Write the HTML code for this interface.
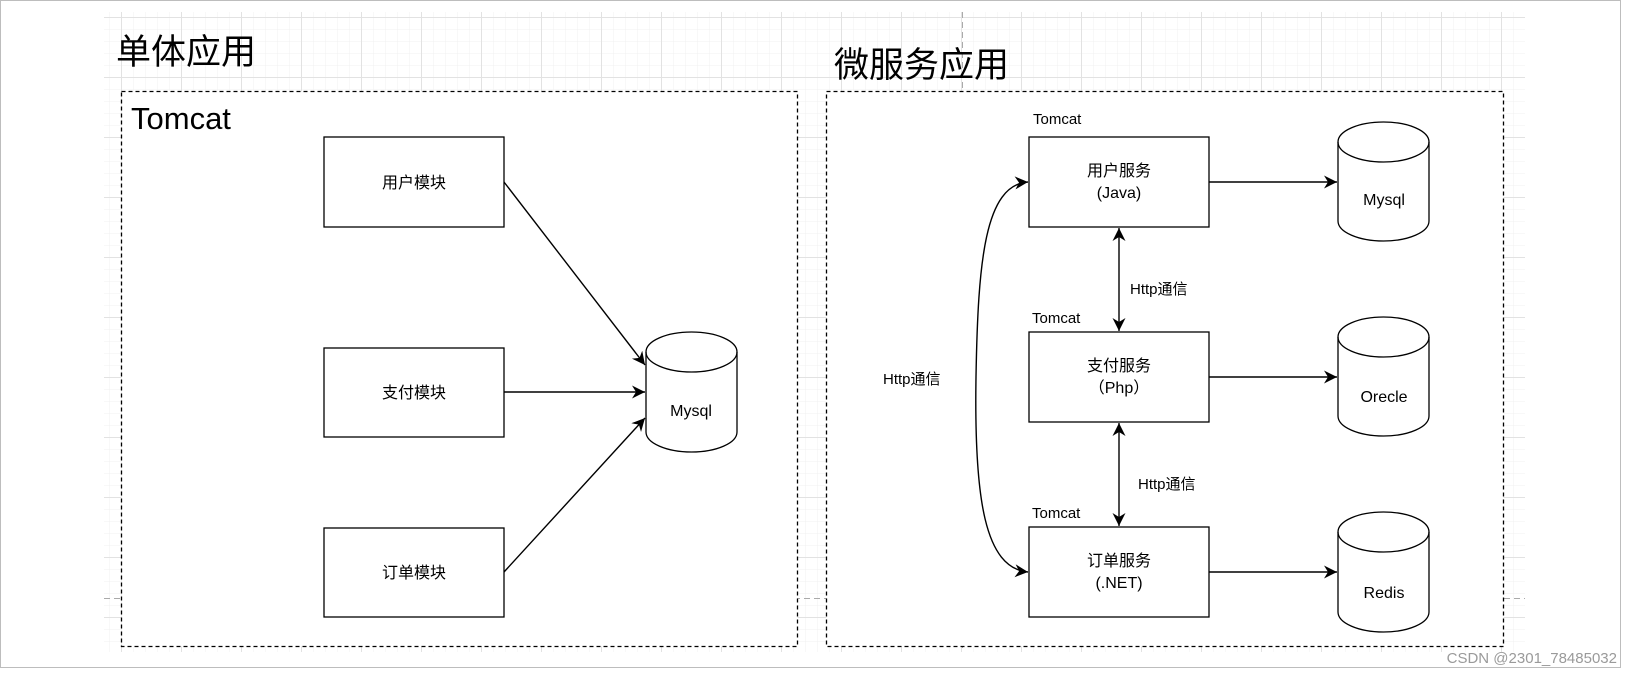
<!DOCTYPE html>
<html><head><meta charset="utf-8"><style>
html,body{margin:0;padding:0;background:#fff;}
svg{display:block;}
text{font-family:"Liberation Sans","Noto Sans CJK SC",sans-serif;fill:#000;}
</style></head><body>
<svg width="1626" height="674" viewBox="0 0 1626 674" xmlns="http://www.w3.org/2000/svg">
<defs>
<pattern id="minor" x="1" y="5" width="12" height="12" patternUnits="userSpaceOnUse">
<path d="M0 0H12M0 0V12" stroke="#f0f0f0" stroke-width="1" fill="none"/>
</pattern>
<pattern id="major" x="1" y="17" width="60" height="60" patternUnits="userSpaceOnUse">
<path d="M0 0.5H60M0.5 0V60" stroke="#e2e2e2" stroke-width="1" fill="none"/>
</pattern>
<marker id="ah" markerWidth="14" markerHeight="14" refX="13" refY="6.5" orient="auto" markerUnits="userSpaceOnUse">
<path d="M0 0L13 6.5L0 13L4 6.5Z" fill="#000"/>
</marker>
<marker id="ahs" markerWidth="14" markerHeight="14" refX="0" refY="6.5" orient="auto" markerUnits="userSpaceOnUse">
<path d="M13 0L0 6.5L13 13L9 6.5Z" fill="#000"/>
</marker>
</defs>
<rect x="0.5" y="0.5" width="1620" height="667" fill="#fff" stroke="#bdbdbd"/>
<rect x="104" y="12" width="1421" height="640" fill="url(#minor)"/>
<rect x="104" y="12" width="1421" height="640" fill="url(#major)"/>
<line x1="962.5" y1="12" x2="962.5" y2="652" stroke="#aaa" stroke-dasharray="6,4"/>
<line x1="104" y1="598.5" x2="1525" y2="598.5" stroke="#aaa" stroke-dasharray="6,4"/>

<text x="116" y="64" font-size="35">单体应用</text>
<text x="834" y="77" font-size="35">微服务应用</text>

<rect x="121.5" y="91.5" width="676" height="555" fill="#fff" stroke="#000" stroke-dasharray="4,3" stroke-width="1.3"/>
<rect x="826.5" y="91.5" width="677" height="555" fill="#fff" stroke="#000" stroke-dasharray="4,3" stroke-width="1.3"/>

<text x="131" y="129" font-size="31">Tomcat</text>

<g stroke="#000" stroke-width="1.3" fill="#fff">
<rect x="324" y="137" width="180" height="90"/>
<rect x="324" y="348" width="180" height="89"/>
<rect x="324" y="528" width="180" height="89"/>
<rect x="1029" y="137" width="180" height="90"/>
<rect x="1029" y="332" width="180" height="90"/>
<rect x="1029" y="527" width="180" height="90"/>
</g>
<g font-size="16" text-anchor="middle">
<text x="414" y="188">用户模块</text>
<text x="414" y="398">支付模块</text>
<text x="414" y="578">订单模块</text>
<text x="1119" y="176">用户服务</text>
<text x="1119" y="198">(Java)</text>
<text x="1119" y="371">支付服务</text>
<text x="1119" y="393">（Php）</text>
<text x="1119" y="566">订单服务</text>
<text x="1119" y="588">(.NET)</text>
</g>
<g font-size="15">
<text x="1033" y="124">Tomcat</text>
<text x="1032" y="323">Tomcat</text>
<text x="1032" y="518">Tomcat</text>
<text x="1130" y="294">Http通信</text>
<text x="1138" y="489">Http通信</text>
<text x="883" y="384">Http通信</text>
</g>

<g stroke="#000" stroke-width="1.3" fill="#fff">
<path d="M646 352 V432 A45.5 20 0 0 0 737 432 V352 A45.5 20 0 0 0 646 352 Z"/>
<path d="M646 352 A45.5 20 0 0 0 737 352" fill="none"/>
<path d="M1338 142 V221 A45.5 20 0 0 0 1429 221 V142 A45.5 20 0 0 0 1338 142 Z"/>
<path d="M1338 142 A45.5 20 0 0 0 1429 142" fill="none"/>
<path d="M1338 337 V416 A45.5 20 0 0 0 1429 416 V337 A45.5 20 0 0 0 1338 337 Z"/>
<path d="M1338 337 A45.5 20 0 0 0 1429 337" fill="none"/>
<path d="M1338 532 V612 A45.5 20 0 0 0 1429 612 V532 A45.5 20 0 0 0 1338 532 Z"/>
<path d="M1338 532 A45.5 20 0 0 0 1429 532" fill="none"/>
</g>
<g font-size="16" text-anchor="middle">
<text x="691" y="416">Mysql</text>
<text x="1384" y="205">Mysql</text>
<text x="1384" y="402">Orecle</text>
<text x="1384" y="598">Redis</text>
</g>

<g stroke="#000" stroke-width="1.4" fill="none">
<line x1="504" y1="182" x2="645" y2="365" marker-end="url(#ah)"/>
<line x1="504" y1="392" x2="645" y2="392" marker-end="url(#ah)"/>
<line x1="504" y1="572" x2="645" y2="418" marker-end="url(#ah)"/>
<line x1="1209" y1="182" x2="1337" y2="182" marker-end="url(#ah)"/>
<line x1="1209" y1="377" x2="1337" y2="377" marker-end="url(#ah)"/>
<line x1="1209" y1="572" x2="1337" y2="572" marker-end="url(#ah)"/>
<line x1="1119" y1="228" x2="1119" y2="331" marker-start="url(#ahs)" marker-end="url(#ah)"/>
<line x1="1119" y1="423" x2="1119" y2="526" marker-start="url(#ahs)" marker-end="url(#ah)"/>
<path d="M1028 182 C985 185 978 260 976 377 C974 500 985 568 1028 572" marker-start="url(#ahs)" marker-end="url(#ah)"/>
</g>

<text x="1617" y="663" font-size="15" text-anchor="end" style="fill:#9a9a9a">CSDN @2301_78485032</text>
</svg>
</body></html>
